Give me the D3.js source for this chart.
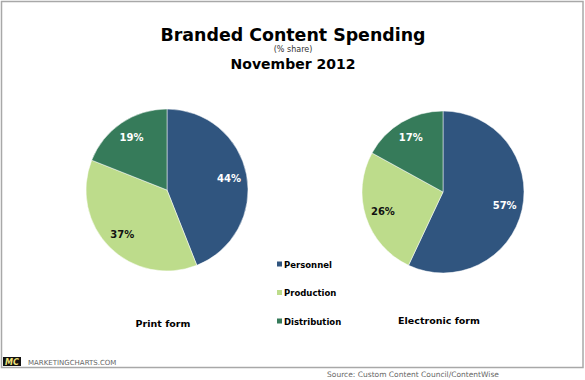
<!DOCTYPE html>
<html>
<head>
<meta charset="utf-8">
<script src="https://cdn.jsdelivr.net/npm/d3@7"></script>
<style>
  body { margin: 0; background: #fff; }
  text { font-family: "DejaVu Sans", Verdana, sans-serif; }
</style>
</head>
<body>
<script>
// data
var categories = ["Personnel", "Production", "Distribution"];
var printValues = [44, 37, 19];
var electronicValues = [57, 26, 17];
var pieNames = ["Print form", "Electronic form"];

var width = 585, height = 380;
var colors = d3.scaleOrdinal()
  .domain(categories)
  .range(["#30557f", "#bddc8b", "#367b5a"]);
var labelColors = { "Personnel": "#fff", "Production": "#111", "Distribution": "#fff" };

var svg = d3.select("body").append("svg")
  .attr("width", width)
  .attr("height", height);

// frame
svg.append("rect")
  .attr("x", 1.5).attr("y", 1.5)
  .attr("width", 581.5).attr("height", 366)
  .attr("fill", "#fff")
  .attr("stroke", "#a8a8a8")
  .attr("stroke-width", 1.5);

// titles
svg.append("text")
  .attr("x", 293).attr("y", 41)
  .attr("text-anchor", "middle")
  .style("font-size", "17.4px").style("font-weight", "bold")
  .text("Branded Content Spending");
svg.append("text")
  .attr("x", 293).attr("y", 52)
  .attr("text-anchor", "middle")
  .style("font-size", "8px").style("fill", "#333")
  .text("(% share)");
svg.append("text")
  .attr("x", 293).attr("y", 69)
  .attr("text-anchor", "middle")
  .style("font-size", "14px").style("font-weight", "bold")
  .text("November 2012");

var pie = d3.pie().sort(null).value(function(d) { return d.value; });
var r = 81;
var arc = d3.arc().innerRadius(0).outerRadius(r);
var labelArc = d3.arc().innerRadius(r * 0.78).outerRadius(r * 0.78);

var pies = [
  { name: pieNames[0], values: printValues, cx: 167, cy: 190, ly: 327 },
  { name: pieNames[1], values: electronicValues, cx: 443, cy: 192, ly: 324 }
];

pies.forEach(function(p) {
  var data = categories.map(function(c, i) { return { cat: c, value: p.values[i] }; });
  var g = svg.append("g").attr("transform", "translate(" + p.cx + "," + p.cy + ")");
  var slices = g.selectAll("g.slice").data(pie(data)).enter().append("g").attr("class", "slice");
  slices.append("path")
    .attr("d", arc)
    .attr("fill", function(d) { return colors(d.data.cat); })
    .attr("stroke", "#fff")
    .attr("stroke-width", 0.5);
  slices.append("text")
    .attr("transform", function(d) { return "translate(" + labelArc.centroid(d) + ")"; })
    .attr("text-anchor", "middle")
    .attr("dy", "0.35em")
    .style("font-size", "10px").style("font-weight", "bold")
    .style("fill", function(d) { return labelColors[d.data.cat]; })
    .text(function(d) { return d.data.value + "%"; });

  svg.append("text")
    .attr("x", p.cx - 4).attr("y", p.ly)
    .attr("text-anchor", "middle")
    .style("font-size", "9.5px").style("font-weight", "bold")
    .text(p.name);
});

// legend
var legendY = d3.scalePoint().domain(categories).range([265, 322]);
var legend = svg.selectAll("g.legend").data(categories).enter().append("g")
  .attr("class", "legend")
  .attr("transform", function(d) { return "translate(277," + legendY(d) + ")"; });
legend.append("rect")
  .attr("x", 0).attr("y", -3.5)
  .attr("width", 5).attr("height", 5)
  .attr("fill", function(d) { return colors(d); });
legend.append("text")
  .attr("x", 7).attr("y", 0)
  .attr("dy", "0.35em")
  .style("font-size", "8.5px").style("font-weight", "bold")
  .text(function(d) { return d; });

// logo
svg.append("rect")
  .attr("x", 3).attr("y", 357)
  .attr("width", 18).attr("height", 9)
  .attr("fill", "#111");
svg.append("text")
  .attr("x", 12).attr("y", 365)
  .attr("text-anchor", "middle")
  .style("font-size", "8px").style("font-weight", "bold").style("font-style", "italic")
  .style("fill", "#f3e37a")
  .text("MC");
svg.append("text")
  .attr("x", 28).attr("y", 365)
  .style("font-size", "7px").style("fill", "#666")
  .text("MARKETINGCHARTS.COM");

// source
svg.append("text")
  .attr("x", 413).attr("y", 377)
  .attr("text-anchor", "middle")
  .style("font-size", "7.5px").style("fill", "#666")
  .text("Source: Custom Content Council/ContentWise");
</script>
</body>
</html>
